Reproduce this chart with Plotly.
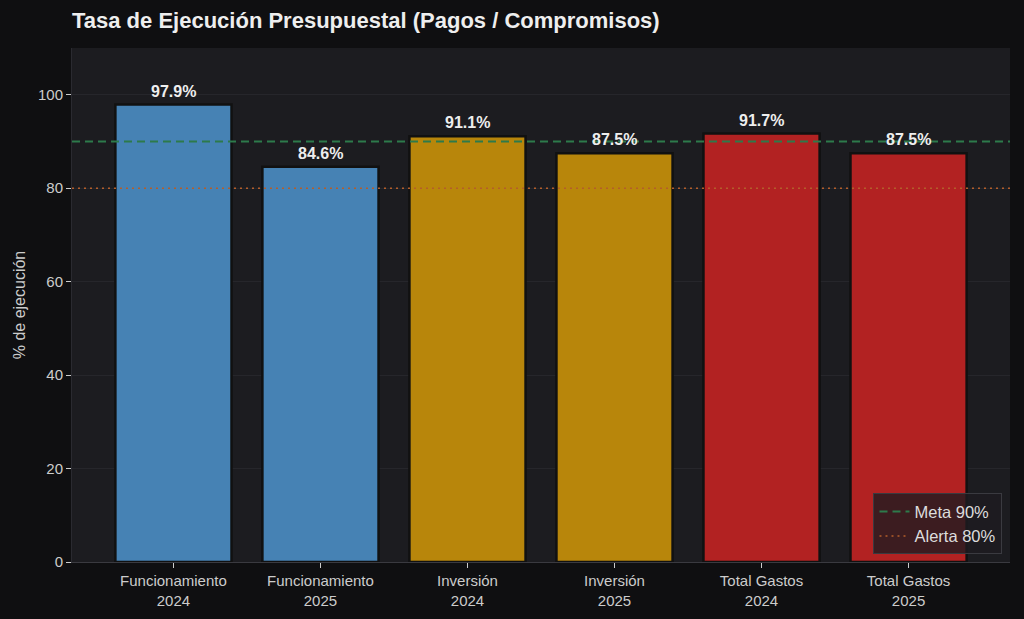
import plotly.graph_objects as go

categorias = ["Funcionamiento<br>2024", "Funcionamiento<br>2025",
              "Inversión<br>2024", "Inversión<br>2025",
              "Total Gastos<br>2024", "Total Gastos<br>2025"]
ejecucion = [97.9, 84.6, 91.1, 87.5, 91.7, 87.5]
colores = ["#4682B4", "#4682B4", "#B8860B", "#B8860B", "#B22222", "#B22222"]
meta = 90
alerta = 80

fig = go.Figure()

fig.add_trace(go.Bar(
    x=categorias,
    y=ejecucion,
    marker=dict(color=colores, line=dict(color="#111111", width=2.5)),
    width=0.79,
    showlegend=False,
    hoverinfo="skip",
))

# etiquetas de valor como anotaciones para que queden sobre las lineas
for cat, val in zip(categorias, ejecucion):
    fig.add_annotation(
        x=cat, y=val, text="<b>{:.1f}%</b>".format(val),
        showarrow=False, yanchor="bottom", yshift=3,
        font=dict(size=16, color="#eeeeee"),
    )

fig.add_hline(y=meta, line=dict(color="#2d7a4b", width=2, dash="8px,5px"),
              showlegend=True, name="Meta 90%", layer="above")
fig.add_hline(y=alerta, line=dict(color="#b45e2a", width=1.6, dash="2px,4px"),
              showlegend=True, name="Alerta 80%", layer="above")

fig.update_layout(
    width=1024,
    height=619,
    paper_bgcolor="#0f0f11",
    plot_bgcolor="#1c1c20",
    font=dict(family="Liberation Sans, Arial, sans-serif", size=15, color="#cccccc"),
    margin=dict(l=72, r=14, t=48, b=57),
    title=dict(
        text="<b>Tasa de Ejecución Presupuestal (Pagos / Compromisos)</b>",
        x=72 / 1024, xanchor="left", y=1 - 20 / 619, yanchor="middle",
        font=dict(size=22, color="#eeeeee"),
    ),
    xaxis=dict(
        range=[-0.69, 5.69],
        automargin=False,
        showgrid=False,
        ticks="outside", ticklen=5, tickcolor="#cccccc",
        showline=True, linecolor="#3a3a40", linewidth=1,
        tickfont=dict(size=15, color="#cccccc"),
        zeroline=False,
    ),
    yaxis=dict(
        range=[0, 110],
        automargin=False,
        tickvals=[0, 20, 40, 60, 80, 100],
        showgrid=True, gridcolor="#26262b", gridwidth=1,
        ticks="outside", ticklen=5, tickcolor="#cccccc",
        showline=True, linecolor="#2a2a30", linewidth=1,
        zeroline=False,
        title=dict(text="% de ejecución", font=dict(size=16, color="#cccccc"), standoff=8),
        tickfont=dict(size=15, color="#cccccc"),
    ),
    legend=dict(
        x=0.992, y=0.015, xanchor="right", yanchor="bottom",
        bgcolor="rgba(30,28,32,0.8)", bordercolor="#3a3a40", borderwidth=1,
        font=dict(size=16.5, color="#dddddd"),
    ),
)

fig.write_html("out.html", config={"displayModeBar": False},
               post_script="document.body.style.margin='0';document.body.style.overflow='hidden';")
